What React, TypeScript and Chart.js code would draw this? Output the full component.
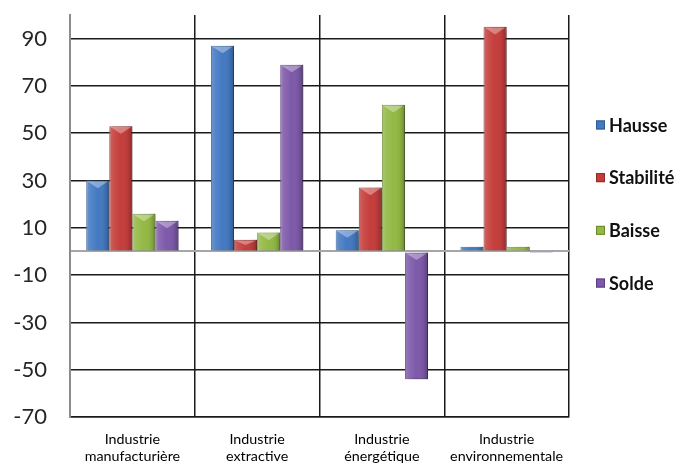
import React, { useEffect, useRef } from 'react';
import { Chart, registerables } from 'chart.js';

Chart.register(...registerables);

const categories: string[][] = [
  ['Industrie', 'manufacturière'],
  ['Industrie', 'extractive'],
  ['Industrie', 'énergétique'],
  ['Industrie', 'environnementale'],
];
const seriesNames = ['Hausse', 'Stabilité', 'Baisse', 'Solde'];
const hausse = [30, 87, 9, 2];
const stabilite = [53, 5, 27, 95];
const baisse = [16, 8, 62, 2];
const solde = [13, 79, -54, -0.6];
const yTicks = [-70, -50, -30, -10, 0, 10, 30, 50, 70, 90];
const yMin = -70;
const yMax = 100;

const colors = ['#4379c2', '#c43d3b', '#93b944', '#7d59a9'];
const borders = ['#2c5a94', '#8f2a28', '#6a8a2c', '#5a3d80'];

const barBevel = {
  id: 'barBevel',
  beforeDatasetDraw(chart: any) {
    const c = chart.ctx;
    c.save();
    c.shadowColor = 'rgba(0,0,0,0.32)';
    c.shadowBlur = 5;
    c.shadowOffsetY = 3;
    c.shadowOffsetX = 1;
  },
  afterDatasetDraw(chart: any) {
    chart.ctx.restore();
  },
  afterDatasetsDraw(chart: any) {
    const ctx = chart.ctx;
    chart.data.datasets.forEach((_ds: any, i: number) => {
      const meta = chart.getDatasetMeta(i);
      meta.data.forEach((el: any) => {
        const p = el.getProps(['x', 'y', 'base', 'width'], true);
        const left = p.x - p.width / 2;
        const right = p.x + p.width / 2;
        const top = Math.min(p.y, p.base);
        const bottom = Math.max(p.y, p.base);
        const h = bottom - top;
        if (h < 1) return;
        ctx.save();
        const g = ctx.createLinearGradient(left, 0, right, 0);
        g.addColorStop(0, 'rgba(255,255,255,0.22)');
        g.addColorStop(0.18, 'rgba(255,255,255,0.10)');
        g.addColorStop(0.5, 'rgba(255,255,255,0)');
        g.addColorStop(0.82, 'rgba(0,0,0,0.08)');
        g.addColorStop(1, 'rgba(0,0,0,0.28)');
        ctx.fillStyle = g;
        ctx.fillRect(left, top, p.width, h);
        if (h > 5) {
          const d = Math.min(p.width * 0.33, h / 2);
          ctx.beginPath();
          ctx.moveTo(left + 1.5, top + 1);
          ctx.lineTo(right - 1.5, top + 1);
          ctx.lineTo(p.x, top + d);
          ctx.closePath();
          ctx.fillStyle = 'rgba(255,255,255,0.35)';
          ctx.fill();
        }
        ctx.restore();
      });
    });
  },
};

const sideLegend = {
  id: 'sideLegend',
  afterDraw(chart: any) {
    const ctx = chart.ctx;
    const area = chart.chartArea;
    const pitch = 52.7;
    const n = chart.data.datasets.length;
    const startY = (area.top + area.bottom) / 2 - ((n - 1) / 2) * pitch - 12;
    ctx.save();
    ctx.font = 'bold 18px Lato';
    ctx.textBaseline = 'middle';
    ctx.textAlign = 'left';
    chart.data.datasets.forEach((ds: any, i: number) => {
      const cy = startY + i * pitch;
      const bx = area.right + 27;
      ctx.fillStyle = ds.backgroundColor;
      ctx.fillRect(bx, cy - 4.5, 9, 9);
      ctx.strokeStyle = ds.borderColor;
      ctx.lineWidth = 1;
      ctx.strokeRect(bx + 0.5, cy - 4, 8, 8);
      ctx.fillStyle = '#111';
      ctx.fillText(ds.label, area.right + 40, cy + 1);
    });
    ctx.restore();
  },
};

export default function App() {
  const ref = useRef<HTMLCanvasElement | null>(null);
  useEffect(() => {
    document.body.style.margin = '0';
    if (!ref.current) return;
    const seriesValues = [hausse, stabilite, baisse, solde];
    const chart = new Chart(ref.current, {
      type: 'bar',
      data: {
        labels: categories,
        datasets: seriesNames.map((name, i) => ({
          label: name,
          data: seriesValues[i],
          backgroundColor: colors[i],
          borderColor: borders[i],
          borderWidth: 1,
          categoryPercentage: 0.74,
          barPercentage: 1,
        })),
      },
      options: {
        animation: false,
        responsive: true,
        maintainAspectRatio: false,
        layout: { padding: { left: 14, right: 111, top: 15, bottom: 0 } },
        plugins: {
          legend: { display: false },
          tooltip: { enabled: false },
        },
        scales: {
          x: {
            afterFit: (scale: any) => {
              scale.height = 47;
              scale.paddingLeft = 0;
              scale.paddingRight = 0;
            },
            grid: { offset: true, color: '#1a1a1a', lineWidth: 1.5, drawTicks: false },
            border: { color: '#1a1a1a', width: 1.5 },
            ticks: {
              font: { family: 'Lato', size: 14.3, lineHeight: 1.2 },
              color: '#000',
              padding: 14,
              maxRotation: 0,
              autoSkip: false,
            },
          },
          y: {
            min: yMin,
            max: yMax,
            afterBuildTicks: (scale: any) => {
              scale.ticks = yTicks.map((v) => ({ value: v }));
            },
            afterFit: (scale: any) => {
              scale.width = 56;
              scale.paddingTop = 0;
              scale.paddingBottom = 0;
            },
            ticks: {
              callback: (v: any) => (Number(v) === 0 ? '' : String(v)),
              font: { family: 'Lato', size: 22 },
              color: '#262626',
              padding: 23,
            },
            grid: {
              color: (c: any) => (c.tick && c.tick.value === 0 ? '#a6a6a6' : '#1a1a1a'),
              lineWidth: (c: any) => (c.tick && c.tick.value === 0 ? 2 : 1.5),
              drawTicks: false,
            },
            border: { color: '#8c8c8c', width: 2 },
          },
        },
      },
      plugins: [barBevel, sideLegend],
    });
    return () => chart.destroy();
  }, []);
  return (
    <div style={{ position: 'fixed', left: 0, top: 0, width: 680, height: 464, background: '#fff' }}>
      <canvas ref={ref} />
    </div>
  );
}
